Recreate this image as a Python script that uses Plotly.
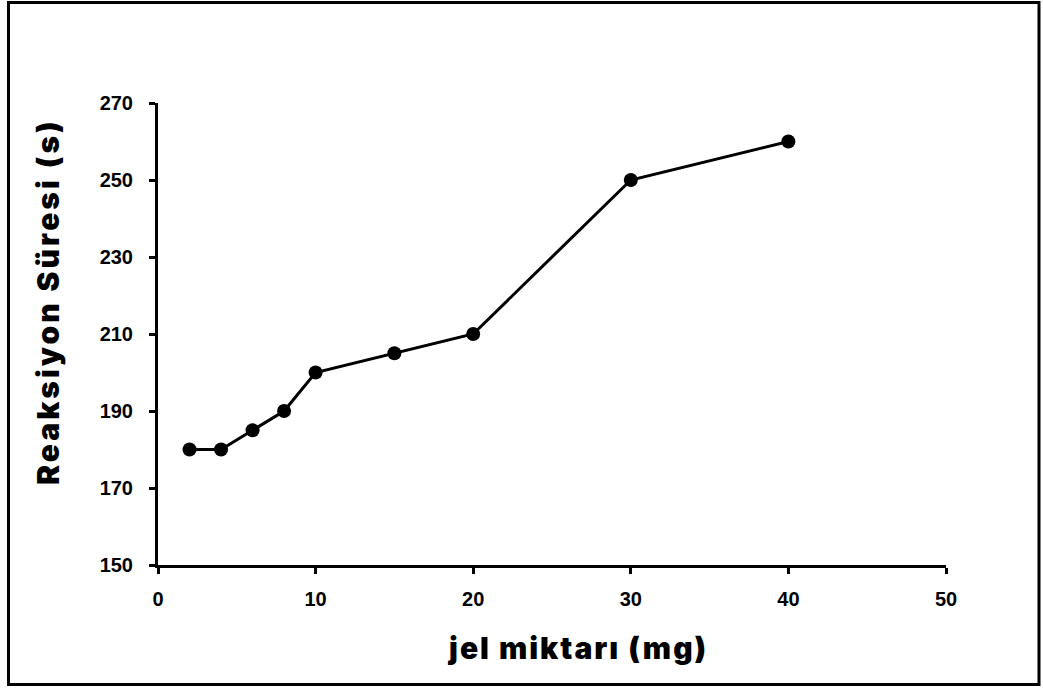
import plotly.graph_objects as go

jel_mg = [2, 4, 6, 8, 10, 15, 20, 30, 40]
sure_s = [180, 180, 185, 190, 200, 205, 210, 250, 260]

x_ticks = [0, 10, 20, 30, 40, 50]
y_ticks = [150, 170, 190, 210, 230, 250, 270]

W, H = 1043, 688
L, R, T, B = 158, 97, 103, 123
pw, ph = W - L - R, H - T - B


def px_x(p):
    return (p - L) / pw


def px_y(p):
    return (H - B - p) / ph


title_font = {"family": "Inter, DejaVu Sans", "size": 30, "color": "black", "weight": 900}

fig = go.Figure(
    go.Scatter(
        x=jel_mg,
        y=sure_s,
        mode="lines+markers",
        line={"color": "black", "width": 3},
        marker={"color": "black", "size": 14},
        cliponaxis=False,
    )
)

axis_common = dict(
    showline=True,
    linecolor="black",
    linewidth=3,
    ticks="outside",
    ticklen=6,
    tickwidth=3,
    tickcolor="black",
    showgrid=False,
    zeroline=False,
    tickfont={"family": "Liberation Sans, Arial", "size": 20, "color": "black", "weight": "bold"},
)

fig.update_xaxes(range=[0, 50], tickvals=x_ticks, ticklabelstandoff=8, **axis_common)
fig.update_yaxes(range=[150, 270], tickvals=y_ticks, ticklabelstandoff=12, **axis_common)

# axis titles placed as annotations to match the reference position
fig.add_annotation(
    text="<span style='letter-spacing:2px'>jel miktarı (mg)</span>",
    xref="paper", yref="paper",
    x=px_x(577), y=px_y(668), showarrow=False, font=title_font,
)
fig.add_annotation(
    text="<span style='letter-spacing:3px'>Reaksiyon Süresi (s)</span>",
    xref="paper", yref="paper",
    x=px_x(28), y=px_y(302), showarrow=False, textangle=-90, font=title_font,
)

fig.add_shape(
    type="rect", xref="paper", yref="paper",
    x0=px_x(8.5), x1=px_x(1039), y0=px_y(684.5), y1=px_y(2.5),
    line={"color": "black", "width": 3},
)

fig.update_layout(
    width=W,
    height=H,
    margin={"l": L, "r": R, "t": T, "b": B},
    plot_bgcolor="white",
    paper_bgcolor="white",
    showlegend=False,
)

fig.write_html(
    "out.html",
    config={"displayModeBar": False},
    post_script="document.body.style.margin='0';",
)
